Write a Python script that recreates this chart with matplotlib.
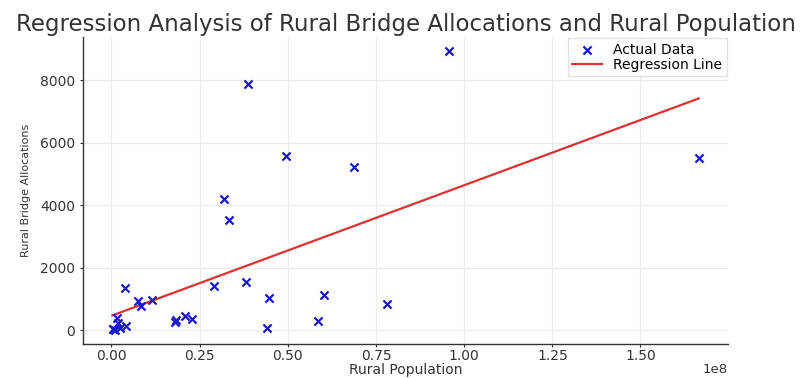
import matplotlib.pyplot as plt
import numpy as np

# rural population and bridge allocation per state
rural_population = [95.7e6, 38.7e6, 49.5e6, 68.8e6, 31.9e6, 33.3e6, 60.3e6, 58.5e6,
                    78.2e6, 166.5e6, 3.8e6, 7.5e6, 8.3e6, 11.5e6, 29.2e6, 38.2e6,
                    44.8e6, 44.1e6, 17.9e6, 18.4e6, 20.9e6, 22.9e6, 1.7e6, 0.5e6,
                    1.1e6, 2.3e6, 4.2e6, 0.3e6, 1.9e6]
bridge_allocations = [8930, 7870, 5560, 5220, 4190, 3530, 1120, 290,
                      840, 5520, 1340, 930, 780, 960, 1410, 1530,
                      1040, 80, 260, 330, 440, 350, 390, 20,
                      0, 70, 130, 30, 230]

x = np.array(rural_population)
y = np.array(bridge_allocations)
slope, intercept = np.polyfit(x, y, 1)
x_line = np.array([x.min(), x.max()])

fig = plt.figure(figsize=(8, 3.78), dpi=100)
ax = fig.add_axes([0.104, 0.09, 0.806, 0.812])

ax.scatter(x, y, marker='x', color='#1a1acc', s=34, linewidths=1.6, label='Actual Data', zorder=3)
ax.plot(x_line, slope * x_line + intercept, color='#e03030', linewidth=1.6, label='Regression Line', zorder=2)

ax.set_title('Regression Analysis of Rural Bridge Allocations and Rural Population',
             fontsize=16.5, color='#333333', pad=4)
ax.set_xlabel('Rural Population', fontsize=10, color='#333333', labelpad=0)
ax.set_ylabel('Rural Bridge Allocations', fontsize=8, color='#333333', labelpad=6)

ax.grid(True, color='#ebebeb', linewidth=0.8)
ax.set_axisbelow(True)
for side in ['top', 'right']:
    ax.spines[side].set_visible(False)
for side in ['left', 'bottom']:
    ax.spines[side].set_color('#333333')
    ax.spines[side].set_linewidth(1.0)
ax.tick_params(axis='both', labelsize=10, colors='#333333', length=2.5, width=0.8)
ax.tick_params(axis='x', pad=1)

# put the 1e8 multiplier level with the x label so it stays inside the figure
ax.xaxis.get_offset_text().set_visible(False)
ax.text(1.0, -0.062, '1e8', transform=ax.transAxes, ha='right', va='top',
        fontsize=9.5, color='#333333')

ax.legend(loc='upper right', fontsize=10, frameon=True, edgecolor='#dddddd',
          fancybox=False, borderpad=0.3, labelspacing=0.1, handlelength=2.2,
          borderaxespad=0.1)

plt.savefig('out.png', dpi=100)
